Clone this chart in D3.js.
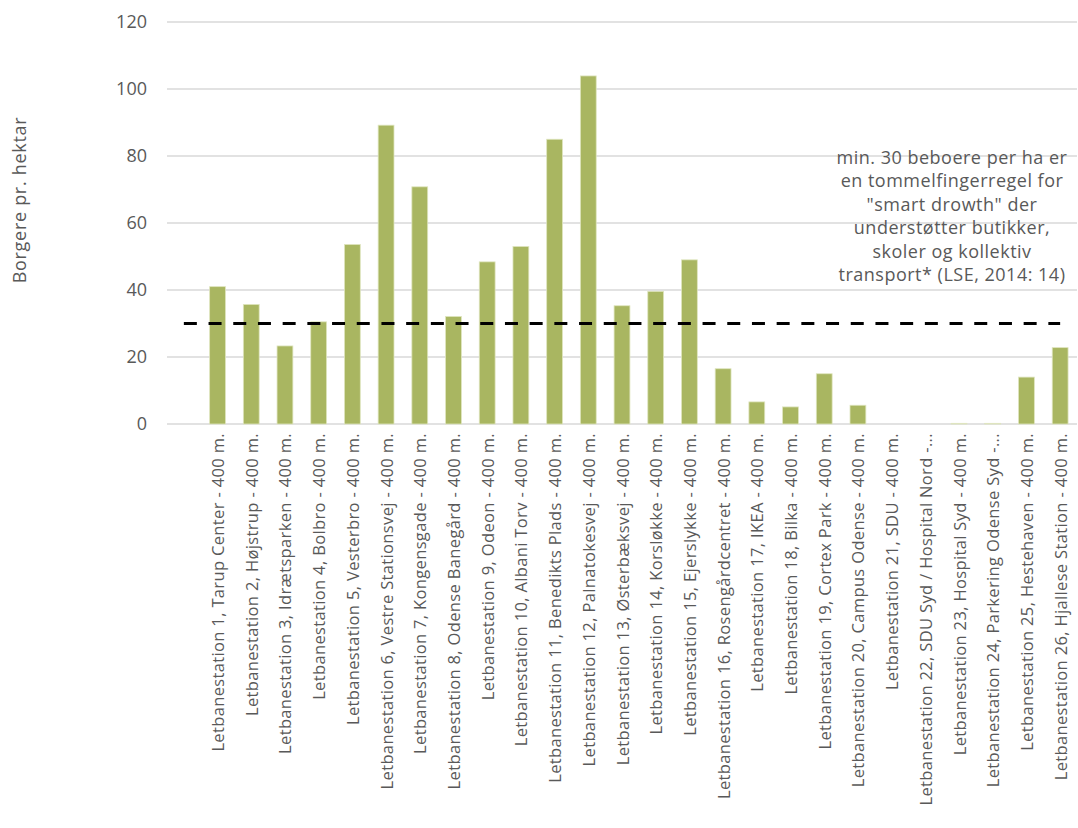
<!DOCTYPE html>
<html>
<head>
<meta charset="utf-8">
<script src="https://cdn.jsdelivr.net/npm/d3@7"></script>
<style>
  body { margin: 0; background: #fff; }
  svg { display: block; }
  text { font-family: "Open Sans", "Noto Sans", sans-serif; fill: #595959; }
</style>
</head>
<body>
<svg id="chart" width="1078" height="828"></svg>
<script>
// ---- data ----
const categories = [
  "",
  "Letbanestation 1, Tarup Center - 400 m.",
  "Letbanestation 2, Højstrup - 400 m.",
  "Letbanestation 3, Idrætsparken - 400 m.",
  "Letbanestation 4, Bolbro - 400 m.",
  "Letbanestation 5, Vesterbro - 400 m.",
  "Letbanestation 6, Vestre Stationsvej - 400 m.",
  "Letbanestation 7, Kongensgade - 400 m.",
  "Letbanestation 8, Odense Banegård - 400 m.",
  "Letbanestation 9, Odeon - 400 m.",
  "Letbanestation 10, Albani Torv - 400 m.",
  "Letbanestation 11, Benedikts Plads - 400 m.",
  "Letbanestation 12, Palnatokesvej - 400 m.",
  "Letbanestation 13, Østerbæksvej - 400 m.",
  "Letbanestation 14, Korsløkke - 400 m.",
  "Letbanestation 15, Ejerslykke - 400 m.",
  "Letbanestation 16, Rosengårdcentret - 400 m.",
  "Letbanestation 17, IKEA - 400 m.",
  "Letbanestation 18, Bilka - 400 m.",
  "Letbanestation 19, Cortex Park - 400 m.",
  "Letbanestation 20, Campus Odense - 400 m.",
  "Letbanestation 21, SDU - 400 m.",
  "Letbanestation 22, SDU Syd / Hospital Nord -...",
  "Letbanestation 23, Hospital Syd - 400 m.",
  "Letbanestation 24, Parkering Odense Syd -...",
  "Letbanestation 25, Hestehaven - 400 m.",
  "Letbanestation 26, Hjallese Station - 400 m."
];
const density = [null, 41.0, 35.7, 23.3, 30.5, 53.6, 89.2, 70.8, 32.1, 48.4, 53.0, 85.0, 103.9,
  35.3, 39.6, 49.0, 16.5, 6.6, 5.1, 15.0, 5.6, 0, 0, 0.2, 0.2, 14.0, 22.8];
const threshold = categories.map(() => 30);
const yTicks = [0, 20, 40, 60, 80, 100, 120];
const yTitle = "Borgere pr. hektar";
const noteLines = [
  "min. 30 beboere per ha er",
  "en tommelfingerregel for",
  "\"smart drowth\" der",
  "understøtter butikker,",
  "skoler og kollektiv",
  "transport* (LSE, 2014: 14)"
];

// ---- layout ----
const svg = d3.select("#chart");
const plot = { left: 167, right: 1077, top: 22, bottom: 424 };

const x = d3.scaleBand()
  .domain(d3.range(categories.length))
  .range([plot.left, plot.right])
  .paddingInner(0.53)
  .paddingOuter(0.265);
const cx = i => x(i) + x.bandwidth() / 2;

const y = d3.scaleLinear().domain([0, 120]).range([plot.bottom, plot.top]);

// gridlines
svg.append("g")
  .selectAll("line")
  .data(yTicks)
  .join("line")
  .attr("x1", plot.left).attr("x2", plot.right)
  .attr("y1", d => y(d)).attr("y2", d => y(d))
  .attr("stroke", "#d9d9d9").attr("stroke-width", 1.3);

// y axis labels
const yAxis = d3.axisLeft(y).tickValues(yTicks).tickSize(0).tickPadding(0);
const gy = svg.append("g").attr("transform", `translate(${plot.left - 20},0)`).call(yAxis);
gy.select(".domain").remove();
gy.selectAll("text").style("font-size", "18px").attr("fill", "#595959")
  .style("font-family", '"Open Sans", sans-serif');

// y title
svg.append("text")
  .attr("transform", "translate(26,200) rotate(-90)")
  .attr("text-anchor", "middle")
  .style("font-size", "18px")
  .style("letter-spacing", "0.7px")
  .text(yTitle);

// bars
svg.append("g")
  .selectAll("rect")
  .data(density.map((v, i) => ({ v, i })).filter(d => d.v !== null))
  .join("rect")
  .attr("x", d => x(d.i))
  .attr("width", x.bandwidth())
  .attr("y", d => y(d.v))
  .attr("height", d => y(0) - y(d.v))
  .attr("fill", "#a9b661")
  .attr("stroke", "#dfe5bf")
  .attr("stroke-width", 0.8);

// threshold dashed line
const line = d3.line().x((d, i) => cx(i)).y(d => y(d));
svg.append("path")
  .datum(threshold)
  .attr("d", line)
  .attr("fill", "none")
  .attr("stroke", "#000")
  .attr("stroke-width", 3)
  .attr("stroke-dasharray", "13,11.7");

// x labels
const xAxis = d3.axisBottom(x).tickSize(0).tickPadding(0).tickFormat(i => categories[i]);
const gx = svg.append("g").attr("transform", `translate(0,${plot.bottom})`).call(xAxis);
gx.select(".domain").remove();
gx.selectAll("text")
  .style("font-size", "16.5px")
  .style("letter-spacing", "0.35px")
  .style("font-family", '"Open Sans", sans-serif')
  .attr("fill", "#595959")
  .attr("text-anchor", "end")
  .attr("dy", null)
  .attr("y", null)
  .attr("transform", "translate(0,9) rotate(-90)")
  .attr("dominant-baseline", "central");

// annotation
const note = svg.append("text")
  .attr("text-anchor", "middle")
  .style("font-size", "18px")
  .style("letter-spacing", "0.5px");
note.selectAll("tspan")
  .data(noteLines)
  .join("tspan")
  .attr("x", 952)
  .attr("y", (d, i) => 164 + i * 23.4)
  .text(d => d);
</script>
</body>
</html>
